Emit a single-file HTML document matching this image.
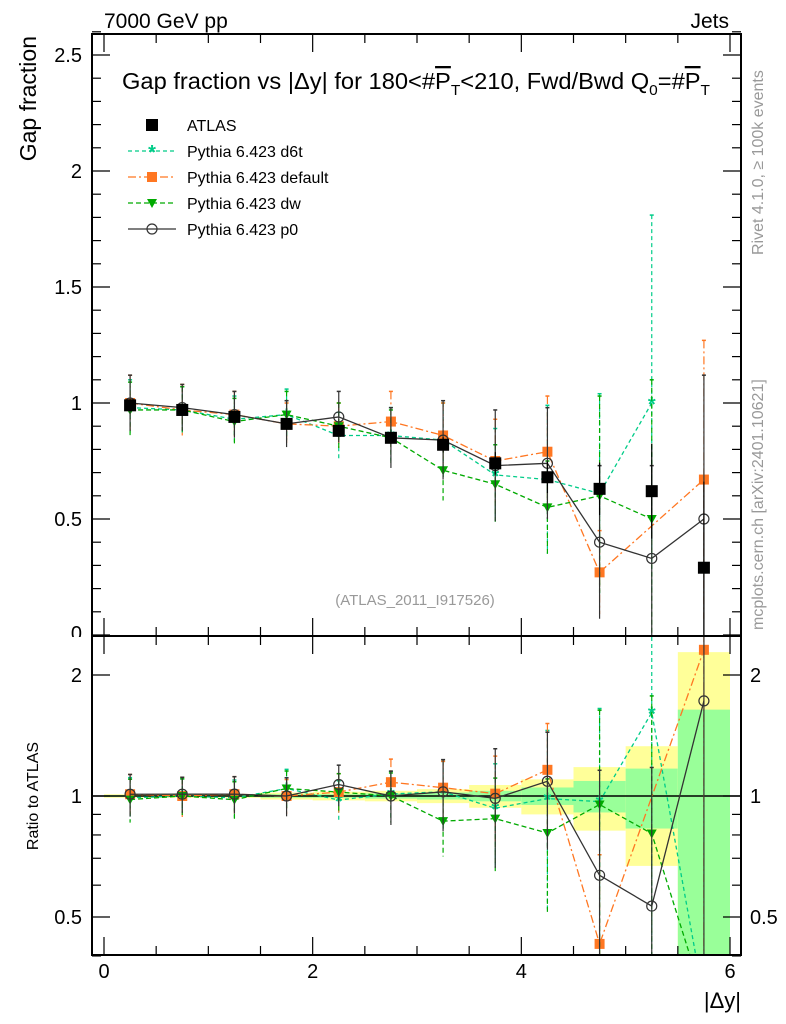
<!DOCTYPE html>
<html><head><meta charset="utf-8"><style>
html,body{margin:0;padding:0;background:#fff;overflow:hidden;}
svg{display:block;}
svg text{font-family:"Liberation Sans",sans-serif;}
</style></head><body>
<svg id="c" width="786" height="1024" xmlns="http://www.w3.org/2000/svg"></svg>
<script>
const xCenters=[0.25,0.75,1.25,1.75,2.25,2.75,3.25,3.75,4.25,4.75,5.25,5.75];
const atlasVals=[0.99,0.97,0.94,0.91,0.88,0.85,0.82,0.74,0.68,0.63,0.62,0.29];
const atlasStatRel=[0.005,0.005,0.005,0.01,0.01,0.015,0.02,0.03,0.05,0.09,0.17,0.64];
const atlasTotRel=[0.01,0.01,0.01,0.02,0.025,0.03,0.04,0.065,0.1,0.18,0.33,1.28];
const d6tVals=[0.98,0.97,0.93,0.95,0.86,0.86,0.84,0.69,0.67,0.61,1.0,0.0];
const d6tErr=[0.12,0.1,0.1,0.11,0.1,0.12,0.16,0.2,0.32,0.43,0.81,0];
const defVals=[1.0,0.97,0.95,0.91,0.90,0.92,0.86,0.75,0.79,0.27,null,0.67];
const defErr=[0.12,0.11,0.1,0.09,0.1,0.13,0.14,0.18,0.24,0.18,0,0.6];
const dwVals=[0.97,0.97,0.92,0.95,0.90,0.85,0.71,0.65,0.55,0.60,0.50,0.0];
const dwErr=[0.12,0.1,0.1,0.1,0.1,0.12,0.13,0.17,0.2,0.43,0.6,0];
const p0Vals=[1.0,0.98,0.95,0.91,0.94,0.85,0.84,0.73,0.74,0.40,0.33,0.50];
const p0Err=[0.12,0.1,0.1,0.1,0.11,0.13,0.17,0.24,0.24,0.33,0.4,0.62];
const mainTicks=[0.5,1,1.5,2,2.5];
const ratioTicks=[0.5,1,2];
const xTicks=[0,2,4,6];

const svg=document.getElementById('c');
const NS='http://www.w3.org/2000/svg';
function el(t,a,p){const e=document.createElementNS(NS,t);for(const k in a)e.setAttribute(k,a[k]);(p||svg).appendChild(e);return e;}
const L=92,R=741,MT=34,MB=636,RB=955;
const OFF=1000;
const X=v=>104+v*(730-104)/6;
const Y=v=>635-232*v;
const RY=v=>796-121*Math.log2(v);
const gMain=el('g',{});
const gRatio=el('g',{});
const defs=el('defs',{});
const c1=el('clipPath',{id:'cm'},defs);el('rect',{x:L,y:MT,width:R-L,height:MB-MT},c1);
const c2=el('clipPath',{id:'cr'},defs);el('rect',{x:L,y:MB,width:R-L,height:RB-MB},c2);
const mainArea=el('g',{'clip-path':'url(#cm)'},gMain);
const ratioArea=el('g',{'clip-path':'url(#cr)'},gRatio);

xCenters.forEach((x,i)=>{
  const t=atlasTotRel[i],s=atlasStatRel[i];
  const yb=v=>Math.min(RY(Math.max(v,0.01)),RB);
  const y1=el('rect',{x:X(x-0.25),width:X(x+0.25)-X(x-0.25),y:RY(1+t),height:yb(1-t)-RY(1+t),fill:'#ffff99'},ratioArea);
  
  const g1=el('rect',{x:X(x-0.25),width:X(x+0.25)-X(x-0.25),y:RY(1+s),height:yb(1-s)-RY(1+s),fill:'#99ff99'},ratioArea);
  
});
el('line',{x1:L,x2:R,y1:RY(1),y2:RY(1),stroke:'#000','stroke-width':1.5},ratioArea);

const series=[
 {name:'d6t',vals:d6tVals,err:d6tErr,col:'#00cc88',dash:'4,3',mk:'star'},
 {name:'default',vals:defVals,err:defErr,col:'#ff7722',dash:'8,3,2,3',mk:'sq'},
 {name:'dw',vals:dwVals,err:dwErr,col:'#00aa00',dash:'5,3',mk:'tri'},
 {name:'p0',vals:p0Vals,err:p0Err,col:'#333333',dash:'',mk:'circ'}
];
function marker(kind,x,y,col,p,nm){
  let m;
  if(kind==='star'){m=el('text',{x:x,y:y+8,'text-anchor':'middle','font-size':20,'font-weight':'bold',fill:col},p);m.textContent='*';}
  else if(kind==='sq'){m=el('rect',{x:x-5,y:y-5,width:10,height:10,fill:col},p);}
  else if(kind==='tri'){m=el('polygon',{points:`${x-5},${y-4} ${x+5},${y-4} ${x},${y+5}`,fill:col},p);}
  else if(kind==='circ'){m=el('circle',{cx:x,cy:y,r:5,fill:'none',stroke:col,'stroke-width':1.2},p);}
  else {m=el('rect',{x:x-6,y:y-6,width:12,height:12,fill:'#000'},p);}
  
}
function clampY(y){return Math.max(Math.min(y,OFF),MT-20);}
function drawSeries(s,area,yf,ratio){
  const g=el('g',{},area);
  
  
  let pts=[];
  xCenters.forEach((x,i)=>{
    if(s.vals[i]===null)return;
    let v=s.vals[i],e=s.err[i];
    if(!ratio&&v<=0)return;
    if(ratio){v=v/atlasVals[i];e=e/atlasVals[i];}
    const yv=v>0?clampY(yf(v)):OFF;
    pts.push(X(x)+','+yv);
    if(v<=0)return;
    const lo=(v-e>0)?clampY(yf(v-e)):OFF;
    const hi=clampY(yf(v+e));
    el('line',{x1:X(x),x2:X(x),y1:hi,y2:lo,stroke:s.col,'stroke-width':1.2,'stroke-dasharray':s.dash},g);
    el('line',{x1:X(x)-2,x2:X(x)+2,y1:hi,y2:hi,stroke:s.col,'stroke-width':1.5},g);
  });
  el('polyline',{points:pts.join(' '),fill:'none',stroke:s.col,'stroke-width':1.3,'stroke-dasharray':s.dash},g);
  xCenters.forEach((x,i)=>{
    if(s.vals[i]===null)return;
    let v=s.vals[i];if(ratio)v=v/atlasVals[i];
    if(v<=0)return;
    marker(s.mk,X(x),yf(v),s.col,g,'marker-'+s.name);
  });
}
const ga=el('g',{},mainArea);
series.forEach(s=>drawSeries(s,mainArea,Y,false));
xCenters.forEach((x,i)=>{
  const v=atlasVals[i],e=v*atlasTotRel[i];
  el('line',{x1:X(x),x2:X(x),y1:Y(v+e),y2:Y(v-e),stroke:'#000','stroke-width':1.2},ga);
  marker('data',X(x),Y(v),'#000',ga,'marker-atlas');
});
mainArea.appendChild(ga);
series.forEach(s=>drawSeries(s,ratioArea,RY,true));

el('rect',{x:L,y:MT,width:R-L,height:MB-MT,fill:'none',stroke:'#000','stroke-width':2},gMain);
el('rect',{x:L,y:MB,width:R-L,height:RB-MB,fill:'none',stroke:'#000','stroke-width':2},gRatio);
for(let k=0;k<=26;k++){const v=k/10,y=Y(v);const big=(k%5===0);const w=big?18:9;
  el('line',{x1:L,x2:L+w,y1:y,y2:y,stroke:'#000','stroke-width':1.2},gMain);
  el('line',{x1:R,x2:R-w,y1:y,y2:y,stroke:'#000','stroke-width':1.2},gMain);}
mainTicks.forEach(v=>{const t=el('text',{x:82,y:Y(v)+7,'text-anchor':'end','font-size':20},gMain);t.textContent=String(v);
 });
const z=el('text',{x:82,y:640,'text-anchor':'end','font-size':20},gMain);z.textContent='0';

el('rect',{x:60,y:637,width:30,height:10,fill:'#fff'});
for(let k=0;k<=12;k++){const v=k/2,x=X(v);const big=(k%4===0);const h=big?18:9;
  el('line',{x1:x,x2:x,y1:MB,y2:MB-h,stroke:'#000','stroke-width':1.2},gMain);
  el('line',{x1:x,x2:x,y1:MT,y2:MT+h,stroke:'#000','stroke-width':1.2},gMain);
  el('line',{x1:x,x2:x,y1:RB,y2:RB-h,stroke:'#000','stroke-width':1.2},gRatio);
  el('line',{x1:x,x2:x,y1:MB,y2:MB+h,stroke:'#000','stroke-width':1.2},gRatio);}
xTicks.forEach(v=>{const t=el('text',{x:X(v),y:978,'text-anchor':'middle','font-size':20},gRatio);t.textContent=String(v);
 });
[0.4,0.5,0.6,0.7,0.8,0.9,1,2].forEach(v=>{const y=RY(v);const big=ratioTicks.includes(v);const w=big?18:9;
  el('line',{x1:L,x2:L+w,y1:y,y2:y,stroke:'#000','stroke-width':1.2},gRatio);
  el('line',{x1:R,x2:R-w,y1:y,y2:y,stroke:'#000','stroke-width':1.2},gRatio);});
ratioTicks.forEach(v=>{
 const t=el('text',{x:82,y:RY(v)+7,'text-anchor':'end','font-size':20},gRatio);t.textContent=String(v);
 
 const t2=el('text',{x:750,y:RY(v)+7,'text-anchor':'start','font-size':20},gRatio);t2.textContent=String(v);
 });

function txt(s,a,nm){const t=el('text',a);t.textContent=s;return t;}
txt('7000 GeV pp',{x:104,y:28,'font-size':21},'energy-label');
txt('Jets',{x:729,y:28,'font-size':21,'text-anchor':'end'},'process-label');
txt('Gap fraction',{transform:'translate(36,36) rotate(-90)','font-size':23,'text-anchor':'end'},'y-axis-title');
txt('Ratio to ATLAS',{transform:'translate(38,796) rotate(-90)','font-size':16,'text-anchor':'middle'},'ratio-axis-title');
txt('|Δy|',{x:741,y:1008,'font-size':22,'text-anchor':'end'},'x-axis-title');
txt('(ATLAS_2011_I917526)',{x:415,y:605,'font-size':15,'text-anchor':'middle',fill:'#999'},'analysis-id');
txt('Rivet 4.1.0, ≥ 100k events',{transform:'translate(763,255) rotate(-90)','font-size':16,fill:'#999'},'rivet-label');
txt('mcplots.cern.ch [arXiv:2401.10621]',{transform:'translate(763,630) rotate(-90)','font-size':16,fill:'#999'},'mcplots-label');
const tt=txt('',{x:122,y:89,'font-size':23,textLength:588,lengthAdjust:'spacingAndGlyphs'},'plot-title');
tt.innerHTML='Gap fraction vs |Δy| for 180&lt;#<tspan text-decoration="overline">P</tspan><tspan font-size="15" dy="6">T</tspan><tspan dy="-6">&lt;210, Fwd/Bwd Q</tspan><tspan font-size="15" dy="6">0</tspan><tspan dy="-6">=#</tspan><tspan text-decoration="overline">P</tspan><tspan font-size="15" dy="6">T</tspan>';

const leg=el('g',{});
const legItems=[{lab:'ATLAS',s:null},...series.map(s=>({lab:'Pythia 6.423 '+s.name,s:s}))];
legItems.forEach((it,i)=>{
  const y=125+i*26;
  const g=el('g',{},leg);
  if(it.s){el('line',{x1:128,x2:176,y1:y,y2:y,stroke:it.s.col,'stroke-width':1.3,'stroke-dasharray':it.s.dash},g);marker(it.s.mk,152,y,it.s.col,g,'legend-marker');}
  else marker('data',152,y,'#000',g,'legend-marker');
  const t=el('text',{x:187,y:y+6,'font-size':16},g);t.textContent=it.lab;
});
</script>
</body></html>
